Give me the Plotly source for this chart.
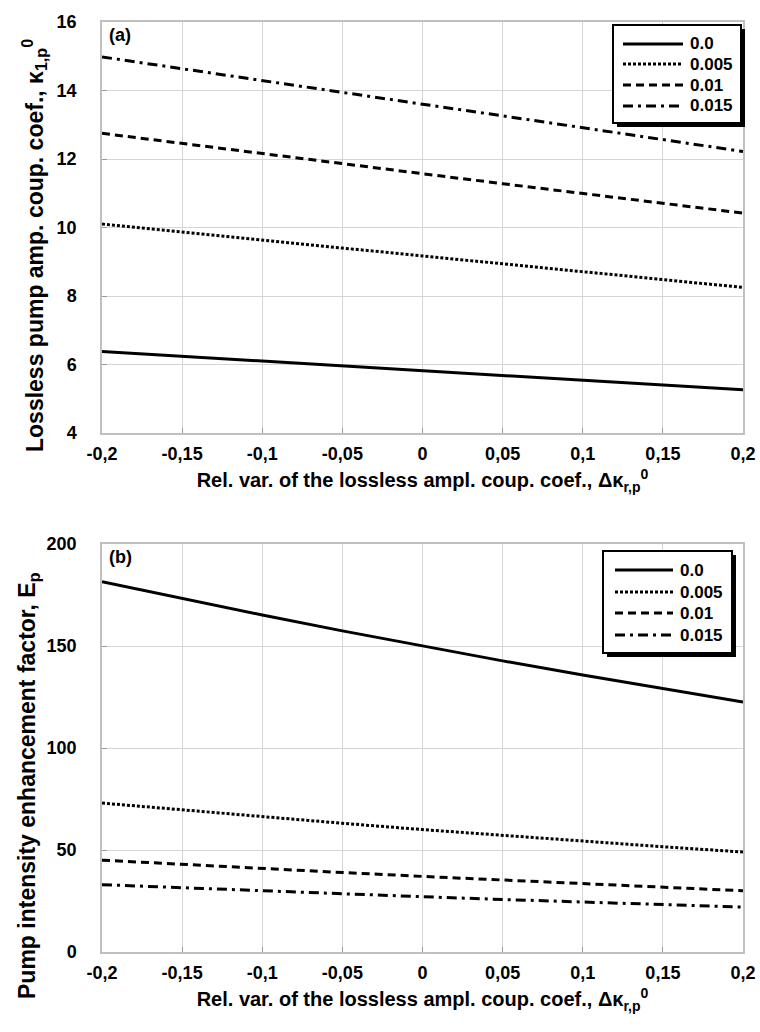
import plotly.graph_objects as go

# Relative variation of the lossless amplitude coupling coefficient
dk = [-0.2, -0.15, -0.1, -0.05, 0.0, 0.05, 0.1, 0.15, 0.2]
x_ticks = [-0.2, -0.15, -0.1, -0.05, 0.0, 0.05, 0.1, 0.15, 0.2]
x_ticktext = ["-0,2", "-0,15", "-0,1", "-0,05", "0", "0,05", "0,1", "0,15", "0,2"]

loss_labels = ["0.0", "0.005", "0.01", "0.015"]

# (a) lossless pump amplitude coupling coefficient
kappa_00 = [6.38, 6.24, 6.10, 5.96, 5.82, 5.68, 5.54, 5.40, 5.26]
kappa_005 = [10.10, 9.86, 9.63, 9.40, 9.17, 8.94, 8.71, 8.48, 8.25]
kappa_01 = [12.75, 12.45, 12.15, 11.85, 11.57, 11.28, 11.00, 10.70, 10.42]
kappa_015 = [14.98, 14.63, 14.28, 13.94, 13.60, 13.26, 12.92, 12.58, 12.22]

# (b) pump intensity enhancement factor
enh_00 = [181.5, 173.2, 165.2, 157.4, 149.9, 142.7, 135.8, 129.1, 122.6]
enh_005 = [73.0, 69.6, 66.3, 63.1, 60.0, 57.1, 54.3, 51.6, 49.0]
enh_01 = [45.0, 42.9, 40.9, 38.95, 37.05, 35.2, 33.4, 31.7, 30.0]
enh_015 = [33.0, 31.45, 29.95, 28.5, 27.1, 25.75, 24.45, 23.2, 22.0]

dashes = ["solid", "3px,2px", "8px,5px", "10px,5px,3px,5px"]

W, H = 760, 1032
FONT = "Liberation Sans, Arial, sans-serif"

fig = go.Figure()

for name, ys, dash in zip(loss_labels, [kappa_00, kappa_005, kappa_01, kappa_015], dashes):
    fig.add_trace(go.Scatter(x=dk, y=ys, mode="lines", name=name, xaxis="x", yaxis="y",
                             line=dict(color="black", width=3, dash=dash)))

for name, ys, dash in zip(loss_labels, [enh_00, enh_005, enh_01, enh_015], dashes):
    fig.add_trace(go.Scatter(x=dk, y=ys, mode="lines", name=name, xaxis="x2", yaxis="y2",
                             line=dict(color="black", width=3, dash=dash)))


def px_x(p):
    return p / W


def px_y(p):
    return 1 - p / H


x_dom = [px_x(102), px_x(743)]
top_dom = [px_y(433), px_y(22)]
bot_dom = [px_y(952), px_y(544)]

tick_font = dict(family=FONT, size=18, color="black", weight="bold")
xtitle_font = dict(family=FONT, size=20, color="black")
ytitle_font = dict(family=FONT, size=23, color="black")
grid = "#d6d6d6"

xcommon = dict(range=[-0.2, 0.2], tickvals=x_ticks, ticktext=x_ticktext, showgrid=True,
               gridcolor=grid, gridwidth=1, showline=True, linecolor="#c0c0c0", linewidth=1.5,
               mirror=True, zeroline=False, ticks="inside", ticklen=5, tickcolor="#999999",
               tickfont=tick_font, ticklabelstandoff=4, automargin=False)
ycommon = dict(showgrid=True, gridcolor=grid, showline=True, linecolor="#c0c0c0", linewidth=1.5,
               mirror=True, zeroline=False, ticks="inside", ticklen=5, tickcolor="#999999",
               tickfont=tick_font, ticklabelstandoff=20, automargin=False)

xtitle = "<b>Rel. var. of the lossless ampl. coup. coef., Δκ<sub>r,p</sub><sup>0</sup></b>"

shapes = []
annotations = [
    # panel tags
    dict(text="<b>(a)</b>", xref="paper", yref="paper", x=px_x(107), y=px_y(23),
         xanchor="left", yanchor="top", showarrow=False,
         font=dict(family=FONT, size=18, color="black")),
    dict(text="<b>(b)</b>", xref="paper", yref="paper", x=px_x(107), y=px_y(545),
         xanchor="left", yanchor="top", showarrow=False,
         font=dict(family=FONT, size=18, color="black")),
    # vertical axis titles
    dict(text="<b>Lossless pump amp. coup. coef., κ<sub>1,p</sub><sup>0</sup></b>",
         xref="paper", yref="paper", x=px_x(34), y=px_y(246), textangle=-90,
         xanchor="center", yanchor="middle", showarrow=False, font=ytitle_font),
    dict(text="<b>Pump intensity enhancement factor, E<sub>p</sub></b>",
         xref="paper", yref="paper", x=px_x(28), y=px_y(786), textangle=-90,
         xanchor="center", yanchor="middle", showarrow=False, font=ytitle_font),
]


# legend boxes with a drop shadow
def add_legend(box, rows, sample_x, text_x):
    x0, x1, y0, y1 = box
    shapes.append(dict(type="rect", xref="paper", yref="paper", layer="above",
                       x0=px_x(x0 + 4), x1=px_x(x1 + 4), y0=px_y(y1 + 4), y1=px_y(y0 + 4),
                       fillcolor="black", line=dict(width=0)))
    shapes.append(dict(type="rect", xref="paper", yref="paper", layer="above",
                       x0=px_x(x0), x1=px_x(x1), y0=px_y(y1), y1=px_y(y0),
                       fillcolor="white", line=dict(color="black", width=2)))
    for label, dash, ry in zip(loss_labels, dashes, rows):
        shapes.append(dict(type="line", xref="paper", yref="paper", layer="above",
                           x0=px_x(sample_x[0]), x1=px_x(sample_x[1]), y0=px_y(ry), y1=px_y(ry),
                           line=dict(color="black", width=3, dash=dash)))
        annotations.append(dict(text="<b>" + label + "</b>", xref="paper", yref="paper",
                                x=px_x(text_x), y=px_y(ry), xanchor="left", yanchor="middle",
                                showarrow=False,
                                font=dict(family=FONT, size=17, color="black")))


add_legend((613, 741, 25, 123), [44, 64, 85, 106], (623, 683), 688)
add_legend((603, 732, 551, 653), [570, 592, 613, 635], (615, 673), 678)

fig.update_layout(
    width=W, height=H,
    margin=dict(l=0, r=0, t=0, b=0, pad=0, autoexpand=False),
    paper_bgcolor="white", plot_bgcolor="white",
    showlegend=False,
    font=dict(family=FONT, color="black"),
    xaxis=dict(domain=x_dom, anchor="y",
               title=dict(text=xtitle, font=xtitle_font, standoff=10), **xcommon),
    yaxis=dict(domain=top_dom, anchor="x", range=[4, 16], tickvals=[4, 6, 8, 10, 12, 14, 16],
               **ycommon),
    xaxis2=dict(domain=x_dom, anchor="y2",
                title=dict(text=xtitle, font=xtitle_font, standoff=10), **xcommon),
    yaxis2=dict(domain=bot_dom, anchor="x2", range=[0, 200], tickvals=[0, 50, 100, 150, 200],
                **ycommon),
    shapes=shapes,
    annotations=annotations,
)

fig.write_html("out.html")
